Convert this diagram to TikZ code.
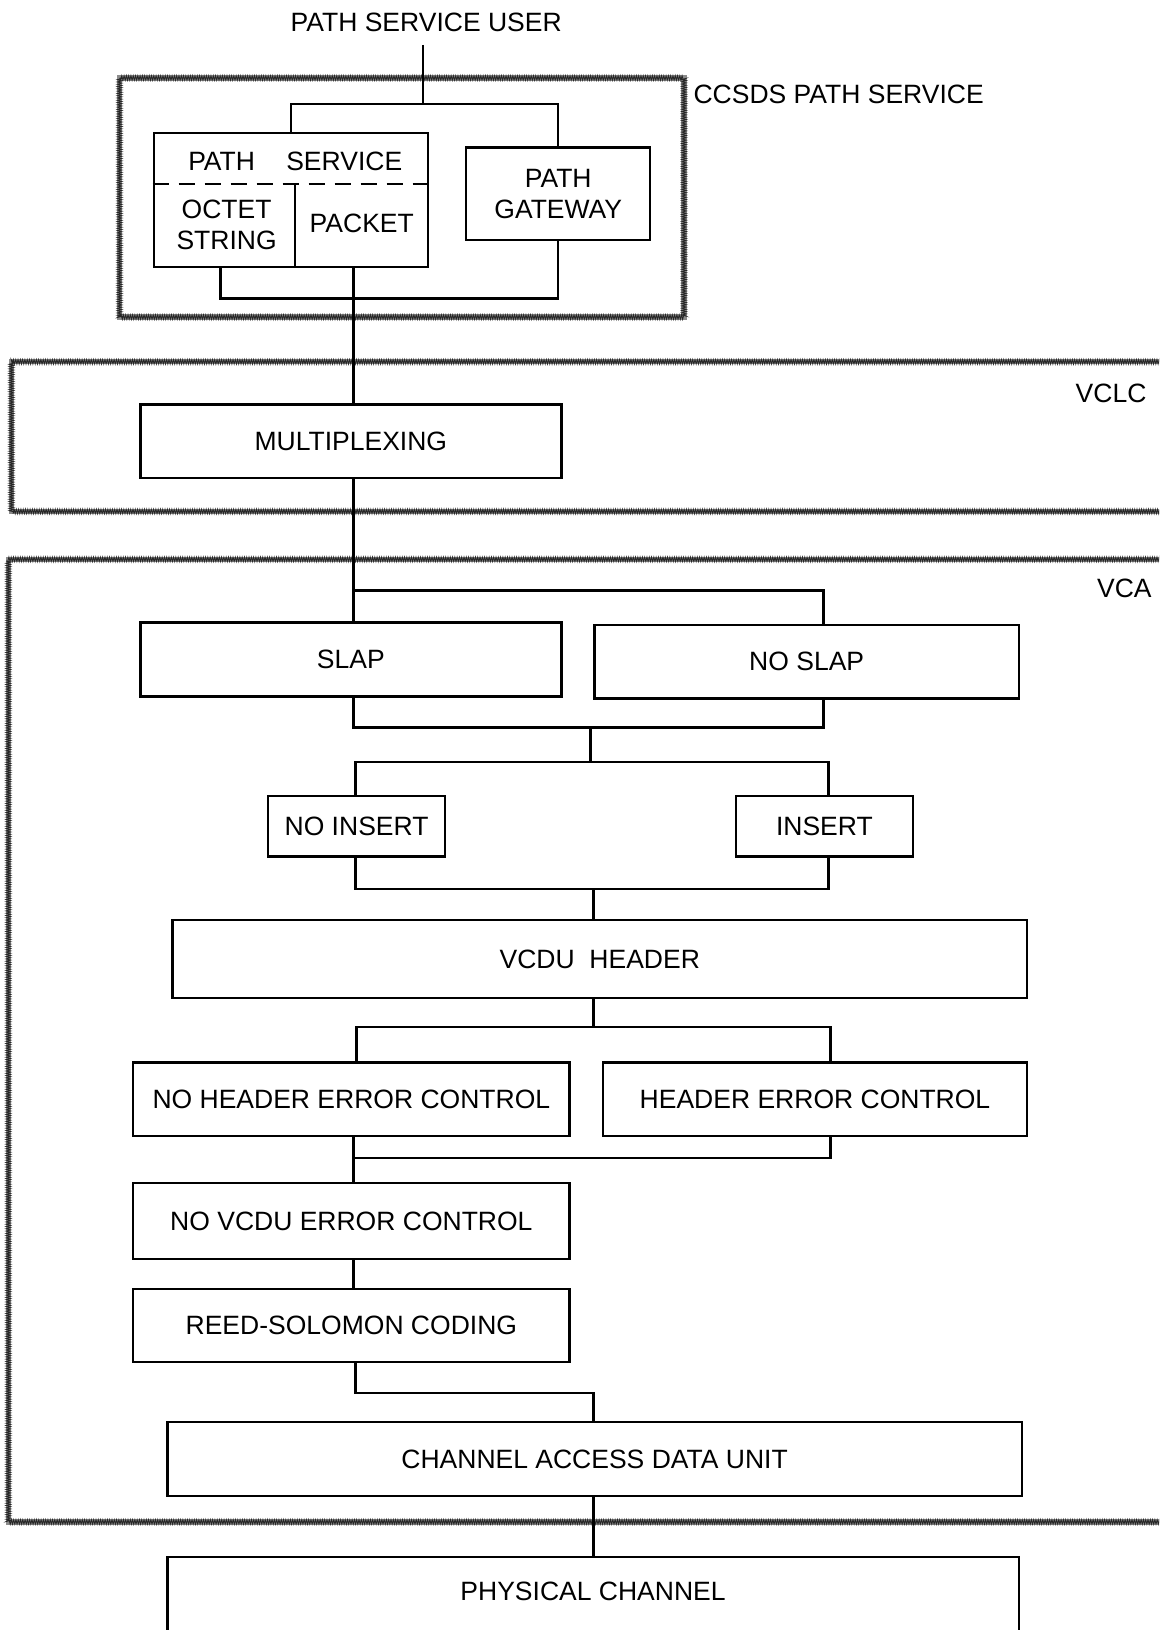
\documentclass[tikz,border=0pt]{standalone}
\usepackage{fontspec}
\setmainfont{Liberation Sans}
\usetikzlibrary{decorations.pathmorphing}
\newcommand\diagfont{\fontsize{25.5}{30}\selectfont}
\begin{document}
\begin{tikzpicture}[x=1pt,y=-1pt,
  box/.style={draw,line width=2.3pt,inner sep=0pt,align=center,font=\diagfont},
  txt/.style={inner sep=0pt,align=center,font=\diagfont},
  conn/.style={line width=2.3pt},
  layer/.style={draw=black!45,line width=5pt,
    postaction={draw=black!85,line width=0.8pt,decorate,
      decoration={zigzag,segment length=2.2pt,amplitude=2.2pt}}}]
\useasboundingbox (0,0) rectangle (1115,1568);
\clip (0,0) rectangle (1115,1568);

% layer frames
\draw[layer] (115,75) rectangle (658,305);
\draw[layer] (1130,348) -- (11,348) -- (11,492) -- (1130,492);
\draw[layer] (1130,538) -- (8,538) -- (8,1464) -- (1130,1464);

% labels
\node[txt,inner ysep=12pt] (user) at (410,22) {PATH SERVICE USER};
\node[txt,anchor=west] (lccsds) at (667,91) {CCSDS PATH SERVICE};
\node[txt,anchor=east] (lvclc) at (1103,378) {VCLC};
\node[txt,anchor=east] (lvca) at (1108,566) {VCA};

% CCSDS path service
\node[box,minimum width=264,minimum height=129] (ps) at (280,192.5) {};
\node[txt] (pst) at (284,155) {PATH\hspace{23pt} SERVICE};
\node[txt] (octet) at (218,216) {OCTET\\STRING};
\node[txt] (packet) at (348,215) {PACKET};
\node[box,minimum width=177,minimum height=89] (gw) at (537,186.5) {PATH\\GATEWAY};

% VCLC
\node[box,minimum width=405,minimum height=71] (mux) at (337.5,424.5) {MULTIPLEXING};

% VCA
\node[box,minimum width=405,minimum height=71] (slap) at (337.5,634.5) {SLAP};
\node[box,minimum width=408,minimum height=71] (noslap) at (776,636.5) {NO SLAP};
\node[box,minimum width=170,minimum height=58] (noins) at (343,795) {NO INSERT};
\node[box,minimum width=170,minimum height=58] (ins) at (793,795) {INSERT};
\node[box,minimum width=822,minimum height=75] (vcdu) at (577,922.5) {VCDU\ \ HEADER};
\node[box,minimum width=420,minimum height=71] (nhec) at (338,1057.5) {NO HEADER ERROR CONTROL};
\node[box,minimum width=408,minimum height=71] (hec) at (784,1057.5) {HEADER ERROR CONTROL};
\node[box,minimum width=420,minimum height=73] (novcdu) at (338,1174.5) {NO VCDU ERROR CONTROL};
\node[box,minimum width=420,minimum height=70] (rs) at (338,1275) {REED-SOLOMON CODING};
\node[box,minimum width=822,minimum height=71] (cadu) at (572,1403.5) {CHANNEL ACCESS DATA UNIT};
\node[box,minimum width=819,minimum height=80,text depth=14pt] (phys) at (570.5,1538) {PHYSICAL CHANNEL};

% internal lines of path service box
\coordinate (dl) at (148,177);
\coordinate (dv) at (284,177);
\draw[conn,dash pattern=on 16pt off 9pt] (ps.west |- dl) -- (ps.east |- dl);
\draw[conn] (dv) -- (dv |- ps.south);

% connectors
\coordinate (ub) at (407,100);
\draw[conn] (user.south -| ub) -- (ub);
\draw[conn] (ps.north) |- (ub) -| (gw.north);
\coordinate (ob) at (212,287);
\draw[conn] (ob |- ps.south) -- (ob) -| (gw.south);
\coordinate (tr) at (340,568);
\draw[conn] (tr |- ps.south) -- (tr |- mux.north);
\draw[conn] (tr |- mux.south) -- (tr);
\coordinate (br) at (792,568);
\draw[conn] (tr |- slap.north) -- (tr) -- (br) -- (br |- noslap.north);
\coordinate (m1) at (568,700);
\draw[conn] (tr |- slap.south) -- (tr |- m1) -- (br |- m1) -- (br |- noslap.south);
\coordinate (b2l) at (342,733);
\coordinate (b2r) at (797,733);
\draw[conn] (m1) -- (m1 |- b2l);
\draw[conn] (b2l |- noins.north) -- (b2l) -- (b2r) -- (b2r |- ins.north);
\coordinate (m2) at (571,855);
\draw[conn] (b2l |- noins.south) -- (b2l |- m2) -- (b2r |- m2) -- (b2r |- ins.south);
\draw[conn] (m2) -- (m2 |- vcdu.north);
\coordinate (b3l) at (343,988);
\coordinate (b3r) at (799,988);
\draw[conn] (m2 |- vcdu.south) -- (m2 |- b3l);
\draw[conn] (b3l |- nhec.north) -- (b3l) -- (b3r) -- (b3r |- hec.north);
\coordinate (m3) at (340,1114);
\draw[conn] (m3 |- nhec.south) -- (m3 |- novcdu.north);
\draw[conn] (m3) -- (b3r |- m3) -- (b3r |- hec.south);
\draw[conn] (m3 |- novcdu.south) -- (m3 |- rs.north);
\coordinate (m4) at (342,1340);
\draw[conn] (m4 |- rs.south) -- (m4) -| (m2 |- cadu.north);
\draw[conn] (m2 |- cadu.south) -- (m2 |- phys.north);
\end{tikzpicture}
\end{document}
